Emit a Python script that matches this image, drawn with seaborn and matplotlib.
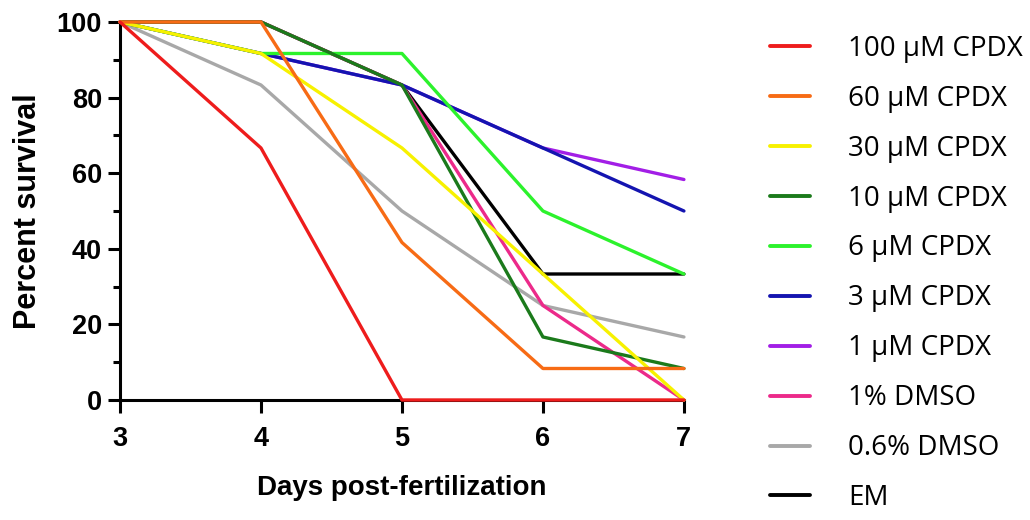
import numpy as np
import pandas as pd
import matplotlib
matplotlib.use("Agg")
import matplotlib.pyplot as plt
import seaborn as sns
from matplotlib.ticker import MultipleLocator

days = [3, 4, 5, 6, 7]
groups = ["100 µM CPDX", "60 µM CPDX", "30 µM CPDX", "10 µM CPDX", "6 µM CPDX",
          "3 µM CPDX", "1 µM CPDX", "1% DMSO", "0.6% DMSO", "EM"]
s_100uM = [100, 66.67, 0, 0, 0]
s_60uM = [100, 100, 41.67, 8.33, 8.33]
s_30uM = [100, 91.67, 66.67, 33.33, 0]
s_10uM = [100, 100, 83.33, 16.67, 8.33]
s_6uM = [100, 91.67, 91.67, 50, 33.33]
s_3uM = [100, 91.67, 83.33, 66.67, 50]
s_1uM = [100, 91.67, 83.33, 66.67, 58.33]
s_1dmso = [100, 100, 83.33, 25, 0]
s_06dmso = [100, 83.33, 50, 25, 16.67]
s_em = [100, 100, 83.33, 33.33, 33.33]
series = [s_100uM, s_60uM, s_30uM, s_10uM, s_6uM, s_3uM, s_1uM, s_1dmso, s_06dmso, s_em]
colors = ["#ee1c1c", "#f76b15", "#f7f100", "#1b7a1b", "#2cf22c",
          "#1414b0", "#a21ee6", "#ec2a8a", "#a8a8a8", "#000000"]

rows = []
for g, vals in zip(groups, series):
    for d, v in zip(days, vals):
        rows.append({"day": d, "survival": v, "group": g})
df = pd.DataFrame(rows)

sns.set_style("white")
plt.rcParams["font.family"] = ["Liberation Sans", "DejaVu Sans"]
plt.rcParams["text.color"] = "black"
plt.rcParams["axes.labelcolor"] = "black"
plt.rcParams["xtick.color"] = "black"
plt.rcParams["ytick.color"] = "black"

fig = plt.figure(figsize=(10.3, 5.2), dpi=100)
ax = fig.add_axes([0.1165, 0.2308, 0.5475, 0.7269])

sns.lineplot(data=df, x="day", y="survival", hue="group", hue_order=groups,
             palette=dict(zip(groups, colors)), linewidth=2.4, ax=ax,
             legend=False, errorbar=None)

n = len(groups)
for i, ln in enumerate(ax.lines):
    ln.set_zorder(10 + (n - i))
    ln.set_clip_on(False)

ax.set_xlim(3, 7)
ax.set_ylim(0, 100)
ax.set_xticks(days)
ax.yaxis.set_major_locator(MultipleLocator(20))
ax.yaxis.set_minor_locator(MultipleLocator(10))
for side in ["top", "right"]:
    ax.spines[side].set_visible(False)
for side in ["left", "bottom"]:
    ax.spines[side].set_linewidth(2.2)
    ax.spines[side].set_color("black")
    ax.spines[side].set_zorder(5)
ax.tick_params(axis="both", which="major", direction="out", length=9, width=2.2,
               labelsize=19.5, colors="black", left=True, bottom=True, pad=4)
ax.tick_params(axis="x", which="major", pad=10)
ax.tick_params(axis="y", which="minor", direction="out", length=5, width=2.2,
               color="black", left=True)
for lab in ax.get_xticklabels() + ax.get_yticklabels():
    lab.set_fontweight("bold")

ax.set_xlabel("Days post-fertilization", fontsize=20, fontweight="bold", labelpad=16,
              color="black")
ax.set_ylabel("Percent survival", fontsize=22, fontweight="bold", labelpad=10,
              color="black")

handles = [plt.Line2D([], [], color=c, linewidth=2.8) for c in colors]
leg = fig.legend(handles, groups, loc="upper left", bbox_to_anchor=(0.745, 0.96),
                 frameon=False, prop={"family": "Open Sans", "size": 20},
                 handlelength=1.45, handletextpad=1.35, labelspacing=0.79, borderpad=0)
for t in leg.get_texts():
    t.set_color("black")
fig.canvas.draw()
bb = leg.get_window_extent()
dx = (770 - bb.x0) / fig.bbox.width
leg.set_bbox_to_anchor((0.745 + dx, 0.96), transform=fig.transFigure)

fig.savefig("out.png", dpi=100, facecolor="white")
